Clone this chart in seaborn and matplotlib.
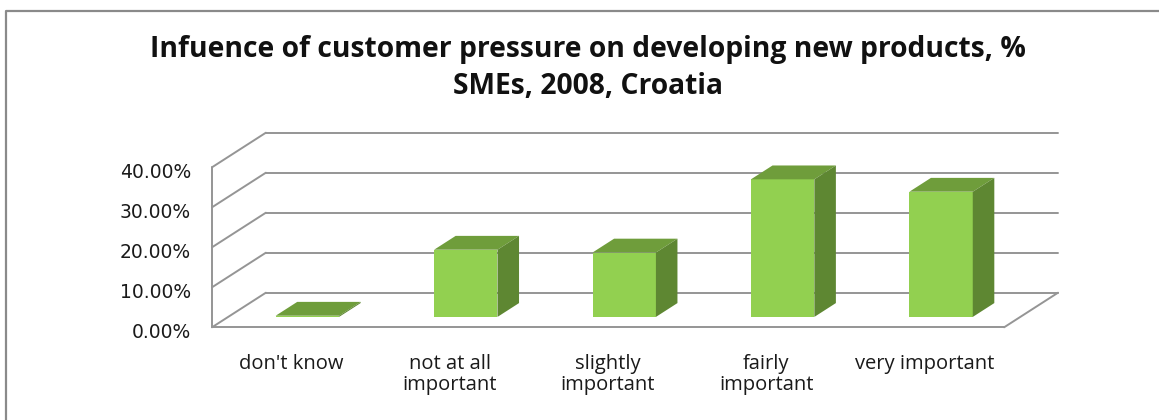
import matplotlib
matplotlib.use("Agg")
import matplotlib.pyplot as plt
import matplotlib.transforms as mtransforms
from matplotlib.lines import Line2D
import pandas as pd
import seaborn as sns

# Survey shares (% of SMEs) per answer category
categories = ["don't know", "not at all\nimportant", "slightly\nimportant",
              "fairly\nimportant", "very important"]
shares = [0.3, 16.8, 16.1, 34.4, 31.3]
tick_values = [0, 10, 20, 30, 40]
tick_labels = ["0.00%", "10.00%", "20.00%", "30.00%", "40.00%"]
title_lines = ["Infuence of customer pressure on developing new products, %",
               "SMEs, 2008, Croatia"]

FRONT = "#92d050"
TOP = "#6f9d3b"
SIDE = "#5e8732"
GRID = "#959595"

# Oblique projection of the floor depth (category units, percent units)
DEPTH_X = 0.34
DEPTH_Y = 8.65
BAR_FRONT, BAR_BACK = 0.3, 0.7


def shift(d):
    """Offset of a plane at depth fraction d relative to the bar front plane."""
    return (d - BAR_FRONT) * DEPTH_X, (d - BAR_FRONT) * DEPTH_Y


sns.set_theme(style="white")
plt.rcParams["font.family"] = ["DejaVu Sans"]

W, H = 1159, 420
fig = plt.figure(figsize=(W / 100, H / 100), dpi=100)
fig.patch.set_facecolor("white")
ax = fig.add_axes([212 / W, 1 - 327.3 / H, 846 / W, 194.6 / H])
ax.set_facecolor("none")

df = pd.DataFrame({"category": categories, "share": shares})
sns.barplot(data=df, x="category", y="share", width=0.4, color=FRONT,
            saturation=1, ax=ax, zorder=3, edgecolor="none", linewidth=0)

n = len(categories)
left, right = -0.5, n - 0.5
fx, fy = shift(0.0)
bx, by = shift(1.0)
line_kw = dict(color=GRID, lw=1.4, zorder=1, clip_on=False, solid_capstyle="round")

# back wall gridlines and left wall diagonals
for v in tick_values:
    ax.plot([left + bx, right + bx], [v + by, v + by], **line_kw)
    ax.plot([left + fx, left + bx], [v + fy, v + by], **line_kw)
# front left edge of the side wall
ax.plot([left + fx, left + fx], [tick_values[0] + fy, tick_values[-1] + fy], **line_kw)
# floor outline
ax.plot([left + fx, right + fx], [fy, fy], **line_kw)
ax.plot([right + fx, right + bx], [fy, by], **line_kw)

# top and side faces of each column
ddx = (BAR_BACK - BAR_FRONT) * DEPTH_X
ddy = (BAR_BACK - BAR_FRONT) * DEPTH_Y
for p in list(ax.patches):
    x0, w, h = p.get_x(), p.get_width(), p.get_height()
    ax.fill([x0, x0 + w, x0 + w + ddx, x0 + ddx], [h, h, h + ddy, h + ddy],
            color=TOP, lw=0, zorder=3)
    ax.fill([x0 + w, x0 + w + ddx, x0 + w + ddx, x0 + w], [0, ddy, h + ddy, h],
            color=SIDE, lw=0, zorder=3)

ax.set_xlim(left + fx, right + bx)
ax.set_ylim(fy, tick_values[-1] + by)
ax.set_xticks([i + fx for i in range(n)], categories)
ax.set_yticks([v + fy for v in tick_values], tick_labels)
ax.tick_params(axis="x", length=0, pad=19, labelsize=14.5, labelcolor="#1a1a1a")
ax.tick_params(axis="y", length=0, pad=15, labelsize=13.5, labelcolor="#1a1a1a")
for lab in ax.get_xticklabels():
    lab.set_family("Open Sans")
    lab.set_linespacing(1.1)
down = mtransforms.ScaledTranslation(0, -4 / 72, fig.dpi_scale_trans)
for lab in ax.get_yticklabels():
    lab.set_verticalalignment("center")
    lab.set_transform(lab.get_transform() + down)
ax.set_xlabel("")
ax.set_ylabel("")
ax.grid(False)
for s in ax.spines.values():
    s.set_visible(False)

# two-line title
for line, ypix in zip(title_lines, [50, 87]):
    fig.text(0.507, 1 - ypix / H, line, ha="center", va="center",
             fontsize=20.3, fontweight="bold", family="Open Sans", color="#111111")

# chart area border (left and top edges)
fig.add_artist(Line2D([6 / W, 6 / W, 1.0], [0.0, 1 - 11 / H, 1 - 11 / H],
                      transform=fig.transFigure, color="#8a8a8a", lw=1.6))

fig.savefig("out.png", dpi=100, facecolor="white")
